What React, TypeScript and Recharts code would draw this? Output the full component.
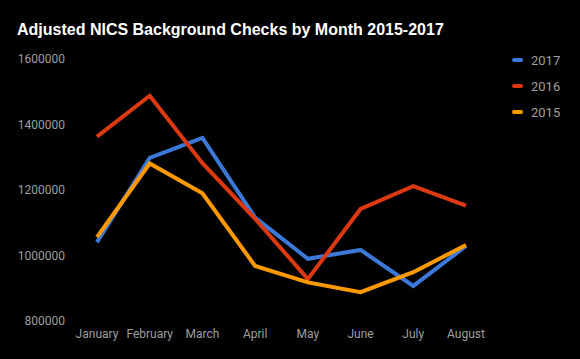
import { LineChart, Line, XAxis, YAxis } from "recharts"

const months = ["January", "February", "March", "April", "May", "June", "July", "August"]
const checks2017 = [1041000, 1298000, 1359000, 1116000, 990000, 1017000, 907000, 1029000]
const checks2016 = [1363000, 1488000, 1282000, 1112000, 928000, 1142000, 1212000, 1152000]
const checks2015 = [1056000, 1281000, 1190000, 968000, 918000, 888000, 949000, 1032000]
const yTicks = [800000, 1000000, 1200000, 1400000, 1600000]

const series = [
  { key: "y2017", name: "2017", color: "#3c78d8" },
  { key: "y2016", name: "2016", color: "#dc3912" },
  { key: "y2015", name: "2015", color: "#ff9900" },
]

const data = months.map((m, i) => ({
  month: m,
  y2017: checks2017[i],
  y2016: checks2016[i],
  y2015: checks2015[i],
}))

const tickStyle = { fill: "#9e9e9e", fontSize: 12, fontFamily: "Roboto" }

function SideLegend() {
  return (
    <div style={{ position: "absolute", left: 512, top: 47 }}>
      {series.map((s) => (
        <div key={s.key} style={{ display: "flex", alignItems: "center", height: 26 }}>
          <span style={{ width: 11, height: 4, borderRadius: 2, background: s.color, marginRight: 8 }} />
          <span style={{ color: "#9e9e9e", fontSize: 13, fontFamily: "Roboto" }}>{s.name}</span>
        </div>
      ))}
    </div>
  )
}

export default function App() {
  return (
    <div style={{ position: "absolute", left: 0, top: 0, width: 580, height: 359, background: "#000", overflow: "hidden" }}>
      <div
        style={{
          position: "absolute",
          left: 17,
          top: 21,
          color: "#fff",
          fontFamily: "Liberation Sans, Arial, sans-serif",
          fontWeight: 700,
          fontSize: 16,
        }}
      >
        Adjusted NICS Background Checks by Month 2015-2017
      </div>
      <LineChart width={580} height={359} data={data} margin={{ top: 59, right: 90, bottom: 0, left: 0 }}>
        <XAxis
          dataKey="month"
          axisLine={false}
          tickLine={false}
          tick={tickStyle}
          height={38}
          padding={{ left: 24, right: 24 }}
          interval={0}
        />
        <YAxis
          domain={[800000, 1600000]}
          ticks={yTicks}
          axisLine={false}
          tickLine={false}
          tick={tickStyle}
          width={73}
        />
        {series.map((s) => (
          <Line
            key={s.key}
            type="linear"
            dataKey={s.key}
            name={s.name}
            stroke={s.color}
            strokeWidth={4}
            dot={false}
            activeDot={false}
            isAnimationActive={false}
          />
        ))}
      </LineChart>
      <SideLegend />
    </div>
  )
}
